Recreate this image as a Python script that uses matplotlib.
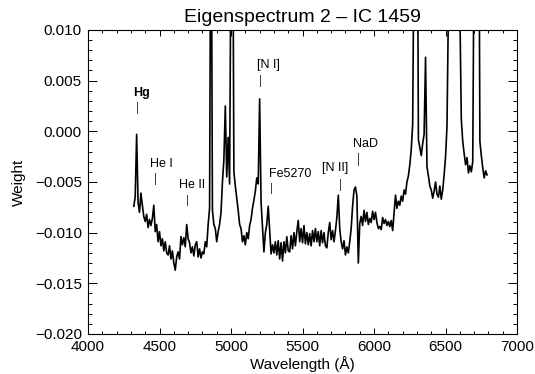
import numpy as np
import matplotlib.pyplot as plt
from matplotlib.ticker import MultipleLocator, FuncFormatter

plt.rcParams['font.family'] = ['Liberation Sans', 'DejaVu Sans']

# eigenspectrum weights in units of 1e-3, sampled every 10 A from 4320 A
start_wave = 4320
step_wave = 10
weight_milli = [
    -7.4, -6.5, -0.3, -7.0, -8.0, -6.1, -7.3, -8.4, -8.9, -8.2,
    -9.5, -8.7, -9.3, -8.6, -7.3, -9.9, -9.2, -10.9, -9.9, -11.3,
    -10.6, -11.8, -10.9, -12.0, -12.2, -11.3, -12.6, -11.8, -13.0, -13.7,
    -12.4, -11.9, -12.6, -10.4, -11.2, -10.5, -11.4, -9.2, -10.6, -11.0,
    -12.0, -11.4, -12.3, -11.2, -10.9, -12.4, -11.6, -12.5, -11.9, -12.1,
    -10.9, -11.4, -9.2, -7.6, 30.0, -7.8, -9.2, -9.6, -10.9, -9.9,
    -9.2, -8.0, -5.0, -2.8, 2.5, -4.5, -0.6, -5.2, 20.0, 30.0,
    -4.0, -5.4, -6.6, -7.8, -9.2, -9.6, -10.9, -10.3, -11.2, -10.0,
    -10.6, -9.3, -8.7, -7.6, -6.8, -5.9, -4.6, -5.2, 3.2, -7.0,
    -9.5, -11.9, -10.0, -9.2, -7.4, -9.8, -12.1, -11.2, -12.0, -10.9,
    -12.2, -10.8, -12.6, -11.0, -12.8, -10.9, -12.0, -10.4, -11.8, -11.9,
    -10.3, -11.6, -10.0, -11.3, -9.9, -8.8, -10.9, -9.6, -11.0, -9.3,
    -11.1, -10.0, -11.2, -10.1, -11.3, -9.8, -10.9, -9.6, -10.9, -9.9,
    -11.3, -9.8, -11.0, -10.0, -11.3, -11.5, -10.0, -9.0, -10.7, -9.8,
    -10.9, -9.8, -8.5, -6.3, -9.6, -10.9, -11.6, -10.8, -12.2, -11.4,
    -12.0, -10.9, -9.6, -7.4, -5.8, -5.5, -6.4, -13.0, -9.1, -8.4,
    -9.3, -7.8, -8.9, -8.0, -9.2, -8.6, -9.0, -7.9, -8.7, -8.0,
    -9.0, -9.6, -9.4, -9.7, -8.5, -9.1, -8.7, -9.3, -8.9, -9.4,
    -8.8, -9.8, -8.0, -6.3, -7.6, -6.9, -7.3, -6.4, -6.9, -5.8,
    -6.2, -5.0, -4.4, -3.3, -1.8, 0.7, 20.0, 45.0, 35.0, -0.8,
    -1.6, -2.4, -1.2, -0.3, 7.3, -3.5, -4.4, -5.4, -5.8, -6.6,
    -5.9, -5.0, -6.2, -6.5, -5.4, -6.7, -5.8, -4.3, -2.5, 0.5,
    12.0, 30.0, 45.0, 60.0, 80.0, 60.0, 50.0, 30.0, 12.0, 1.2,
    -1.0, -2.2, -3.3, -2.6, -4.1, -3.4, -4.0, -3.0, 20.0, 35.0,
    40.0, 35.0, -1.0, -2.4, -3.6, -4.6, -3.9, -4.3,
]

# line identifications: label, line wavelength
line_names = ['Hg', 'He I', 'He II', '[N I]', 'Fe5270', '[N II]', 'NaD']
line_waves = [4340, 4470, 4690, 5200, 5280, 5760, 5885]

weight = np.array(weight_milli) / 1000.0
wave = start_wave + step_wave * np.arange(len(weight))

fig = plt.figure(figsize=(5.35, 3.74), dpi=100)
ax = fig.add_axes([0.1645, 0.107, 0.802, 0.813])

ax.plot(wave, weight, color='black', lw=1.2)

# label text (left x, baseline y) and marker segment (top, bottom)
label_pos = [(4315, 0.00349), (4434, -0.00352), (4636, -0.00559),
             (5182, 0.00625), (5266, -0.00451), (5636, -0.00392),
             (5853, -0.00155)]
mark_span = [(0.0029, 0.0018), (-0.0041, -0.0052), (-0.0063, -0.0073),
             (0.0056, 0.0045), (-0.0051, -0.0061), (-0.0047, -0.0058),
             (-0.0021, -0.0033)]
for name, lw_, (tx, ty), (m0, m1) in zip(line_names, line_waves,
                                          label_pos, mark_span):
    weight_kw = 'bold' if name == 'Hg' else 'normal'
    ax.text(tx, ty, name, fontsize=9, ha='left', va='baseline',
            fontweight=weight_kw)
    ax.plot([lw_, lw_], [m0, m1], color='0.25', lw=0.7)

ax.set_xlim(4000, 7000)
ax.set_ylim(-0.020, 0.010)
ax.xaxis.set_major_locator(MultipleLocator(500))
ax.xaxis.set_minor_locator(MultipleLocator(100))
ax.yaxis.set_major_locator(MultipleLocator(0.005))
ax.yaxis.set_minor_locator(MultipleLocator(0.001))
ax.yaxis.set_major_formatter(
    FuncFormatter(lambda v, pos: f'{v:.3f}'.replace('-', '\u2212')
                  if abs(v) > 1e-9 else '0.000'))

ax.tick_params(which='both', direction='in', top=True, right=True,
               labelsize=11, pad=4.5, width=0.7)
ax.tick_params(axis='x', which='major', length=4.3)
ax.tick_params(axis='x', which='minor', length=2.2)
ax.tick_params(axis='y', which='major', length=6.2)
ax.tick_params(axis='y', which='minor', length=3.1)
for sp in ax.spines.values():
    sp.set_linewidth(0.8)

ax.set_xlabel('Wavelength (Å)', fontsize=11, labelpad=1)
ax.set_ylabel('Weight', fontsize=11, labelpad=6)
ax.set_title('Eigenspectrum 2 \u2013 IC 1459', fontsize=14, pad=6)

fig.savefig('out.png', dpi=100)
